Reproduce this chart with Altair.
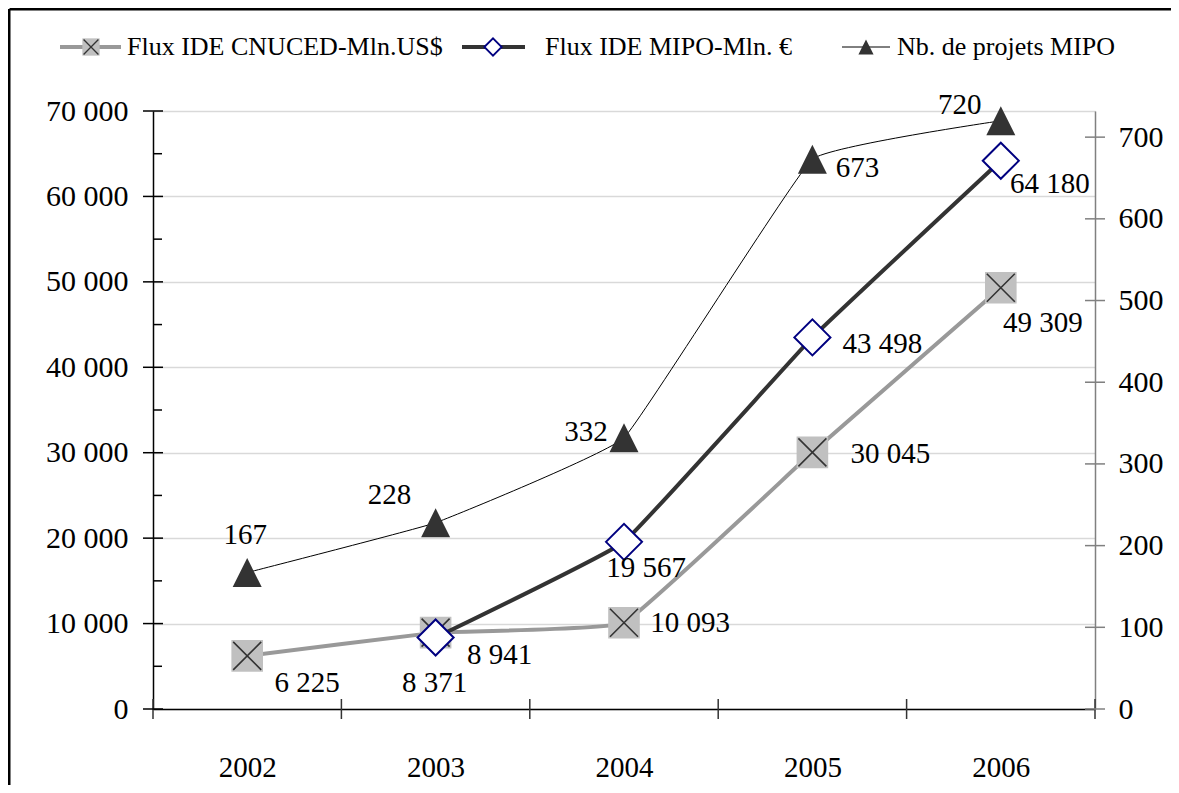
import altair as alt
import pandas as pd
import numpy as np

# ---- data ----
years = [2002, 2003, 2004, 2005, 2006]
cnuced = [6225, 8941, 10093, 30045, 49309]          # Flux IDE CNUCED - Mln US$
mipo = [None, 8371, 19567, 43498, 64180]            # Flux IDE MIPO - Mln EUR
projets = [167, 228, 332, 673, 720]                 # Nb. de projets MIPO

left_ticks = [0, 10000, 20000, 30000, 40000, 50000, 60000, 70000]
left_minor = [5000, 15000, 25000, 35000, 45000, 55000, 65000]
right_ticks = [0, 100, 200, 300, 400, 500, 600, 700]
x_bounds = [2001.5, 2002.5, 2003.5, 2004.5, 2005.5, 2006.5]

names = ["Flux IDE CNUCED-Mln.US$", "Flux IDE MIPO-Mln. €", "Nb. de projets MIPO"]

def fmt(v):
    return f"{int(v):,}".replace(",", " ")

df_c = pd.DataFrame({"year": years, "v": cnuced})
df_c["lab"] = df_c["v"].map(fmt)
df_m = pd.DataFrame({"year": years, "v": mipo}).dropna()
df_m["lab"] = df_m["v"].map(fmt)
df_p = pd.DataFrame({"year": years, "v": projets})
df_p["lab"] = df_p["v"].map(fmt)

W, H = 942, 598
FONT = "'Liberation Serif', 'DejaVu Serif', serif"
LEFT_MAX = 70000
RIGHT_MAX = 732

xscale = alt.Scale(domain=[2001.5, 2006.5], nice=False, zero=False)
lscale = alt.Scale(domain=[0, LEFT_MAX], nice=False)
rscale = alt.Scale(domain=[0, RIGHT_MAX], nice=False)

X = alt.X("year:Q", scale=xscale, title=None,
          axis=alt.Axis(values=years, format="d", ticks=False, grid=False,
                        domainColor="black", domainWidth=1.5,
                        labelFont=FONT, labelFontSize=29, labelColor="black",
                        labelPadding=44))
YL = alt.Y("v:Q", scale=lscale, title=None,
           axis=alt.Axis(values=left_ticks,
                         labelExpr="replace(format(datum.value, ','), /,/g, ' ')",
                         ticks=False, grid=True, gridColor="#d9d9d9", gridWidth=1.5,
                         domainColor="black", domainWidth=1.5,
                         labelFont=FONT, labelFontSize=30, labelColor="black",
                         labelPadding=25))
YR = alt.Y("v:Q", scale=rscale, title=None,
           axis=alt.Axis(orient="right", values=right_ticks, ticks=False, grid=False,
                         domainColor="#808080", domainWidth=1.5,
                         labelFont=FONT, labelFontSize=30, labelColor="black",
                         labelPadding=23))

interp = "cardinal"
TENS = 0.75

# ---- left-axis series ----
c_line = alt.Chart(df_c).mark_line(color="#999999", strokeWidth=4, interpolate=interp,
                                   tension=TENS).encode(x=X, y=YL)
c_sq = alt.Chart(df_c).mark_point(shape="square", filled=True, fill="#c0c0c0", opacity=1,
                                  size=1000, strokeWidth=0).encode(x=X, y=YL)
c_x = alt.Chart(df_c).mark_point(shape="M-1,-1L1,1M1,-1L-1,1", filled=False, stroke="#333333",
                                 strokeWidth=1.6, size=784, opacity=1).encode(x=X, y=YL)
m_line = alt.Chart(df_m).mark_line(color="#333333", strokeWidth=4, interpolate=interp,
                                   tension=TENS).encode(x=X, y=YL)
m_pt = alt.Chart(df_m).mark_point(shape="diamond", filled=True, fill="white", stroke="#000080",
                                  strokeWidth=2, size=1300, opacity=1).encode(x=X, y=YL)

# label offsets (dx, dy) per point
c_off = {2002: (60, 27), 2003: (64, 22), 2004: (66, 0), 2005: (78, 2), 2006: (42, 35)}
m_off = {2003: (-1, 46), 2004: (22, 26), 2005: (70, 7), 2006: (49, 23)}
p_off = {2002: (-2, -38), 2003: (-46, -28), 2004: (-38, -6), 2005: (45, 9), 2006: (-41, -16)}

def labels(df, offs, ydef):
    out = []
    for yr, (dx, dy) in offs.items():
        out.append(alt.Chart(df).transform_filter(alt.datum.year == yr).mark_text(
            font=FONT, fontSize=29, color="black", align="center", baseline="middle",
            dx=dx, dy=dy).encode(x=X, y=ydef, text="lab:N"))
    return out

# axis tick rules (crossing ticks)
df_lt = pd.DataFrame({"v": left_ticks})
df_lm = pd.DataFrame({"v": left_minor})
df_rt = pd.DataFrame({"v": right_ticks})
df_xb = pd.DataFrame({"year": x_bounds})

lt = alt.Chart(df_lt).mark_rule(color="black", strokeWidth=1.5).encode(
    y=YL, x=alt.value(-10), x2=alt.value(10))
lm = alt.Chart(df_lm).mark_rule(color="black", strokeWidth=1.5).encode(
    y=YL, x=alt.value(0), x2=alt.value(9))
xt = alt.Chart(df_xb).mark_rule(color="#333333", strokeWidth=1.5).encode(
    x=X, y=alt.value(H - 10), y2=alt.value(H + 10))

# ---- legend (decorative) ----
one = pd.DataFrame({"k": [0]})
LY = -64
leg = []
# item 1
leg.append(alt.Chart(one).mark_rule(color="#999999", strokeWidth=4).encode(
    x=alt.value(-93), x2=alt.value(-32), y=alt.value(LY)))
leg.append(alt.Chart(one).mark_point(shape="square", filled=True, fill="#c0c0c0", size=300,
                                     strokeWidth=0, opacity=1).encode(x=alt.value(-62), y=alt.value(LY)))
leg.append(alt.Chart(one).mark_point(shape="M-1,-1L1,1M1,-1L-1,1", filled=False, stroke="#333333",
                                     strokeWidth=1.3, size=220, opacity=1).encode(x=alt.value(-62), y=alt.value(LY)))
# item 2
leg.append(alt.Chart(one).mark_rule(color="#333333", strokeWidth=4).encode(
    x=alt.value(309), x2=alt.value(372), y=alt.value(LY)))
leg.append(alt.Chart(one).mark_point(shape="diamond", filled=True, fill="white", stroke="#000080",
                                     strokeWidth=1.8, size=300, opacity=1).encode(x=alt.value(340), y=alt.value(LY)))
# item 3
leg.append(alt.Chart(one).mark_rule(color="black", strokeWidth=1).encode(
    x=alt.value(689), x2=alt.value(737), y=alt.value(LY)))
leg.append(alt.Chart(one).mark_point(shape="M0,-1L1,1L-1,1Z", filled=True, fill="#333333",
                                     size=230, opacity=1, strokeWidth=0).encode(x=alt.value(713), y=alt.value(LY)))
for xpos, name in zip([-26, 392, 744], names):
    leg.append(alt.Chart(pd.DataFrame({"t": [name]})).mark_text(
        font=FONT, fontSize=26, color="black", align="left", baseline="middle").encode(
        x=alt.value(xpos), y=alt.value(LY), text="t:N"))

# outer frame (top + left)
frame = [
    alt.Chart(one).mark_rule(color="black", strokeWidth=3).encode(
        x=alt.value(-143.5), x2=alt.value(W + 80), y=alt.value(-102)),
    alt.Chart(one).mark_rule(color="black", strokeWidth=3).encode(
        x=alt.value(-144), y=alt.value(-102), y2=alt.value(H + 90)),
]

left = alt.layer(c_line, xt, lt, lm, c_sq, c_x, m_line, m_pt,
                 *labels(df_c, c_off, YL), *labels(df_m, m_off, YL), *leg, *frame)

# ---- right-axis series ----
p_line = alt.Chart(df_p).mark_line(color="black", strokeWidth=1, interpolate=interp,
                                   tension=TENS).encode(x=X, y=YR)
p_pt = alt.Chart(df_p).mark_point(shape="M0,-1L1,1L-1,1Z", filled=True, fill="#333333",
                                  size=841, opacity=1, strokeWidth=0).encode(x=X, y=YR)
rt = alt.Chart(df_rt).mark_rule(color="#808080", strokeWidth=1.5).encode(
    y=YR, x=alt.value(W - 10), x2=alt.value(W + 10))
right = alt.layer(p_line, rt, p_pt, *labels(df_p, p_off, YR))

chart = alt.layer(left, right).resolve_scale(y="independent").properties(
    width=W, height=H,
    autosize=alt.AutoSizeParams(type="none"),
    padding={"left": 145, "top": 103, "right": 76, "bottom": 76},
).configure_view(stroke="#808080", strokeWidth=1.5).configure(background="white")

chart.save("out.html", embed_options={"renderer": "svg", "actions": False})
